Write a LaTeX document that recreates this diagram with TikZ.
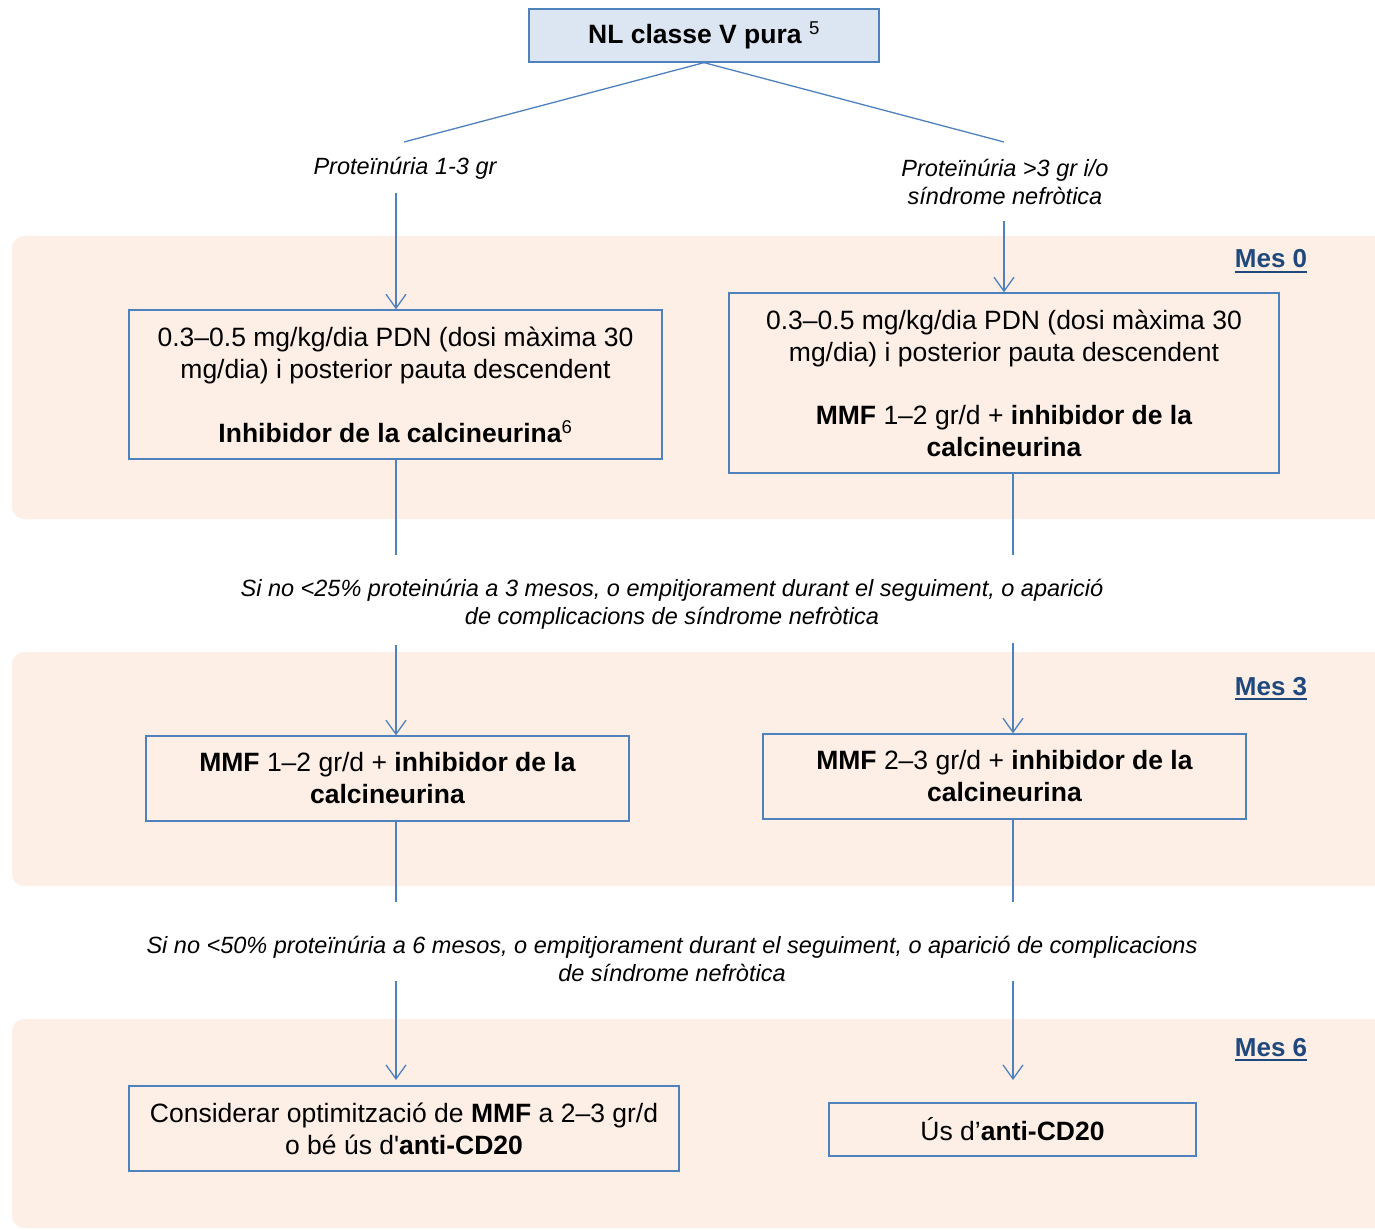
\documentclass[tikz,border=0pt]{standalone}
\usepackage{fontspec}
\setmainfont{Liberation Sans}
\usetikzlibrary{arrows.meta, positioning}

\definecolor{boxblue}{HTML}{4F81BD}
\definecolor{topfill}{HTML}{DCE6F2}
\definecolor{bandfill}{HTML}{FDEFE6}
\definecolor{mesblue}{HTML}{1F497D}

\newcommand{\boxfont}{\fontsize{26.5}{32}\selectfont}
\newcommand{\notefont}{\fontsize{23.5}{28}\selectfont\itshape}
\newcommand{\mesfont}{\fontsize{26}{30}\selectfont\bfseries}
\newcommand{\mesul}[1]{\vtop{\hbox{#1}\kern2.5pt\hrule height 2.5pt}}

\begin{document}
\begin{tikzpicture}[x=1pt, y=-1pt,
  box/.style={rectangle, draw=boxblue, line width=1.3pt, align=center,
              inner sep=0pt, font=\boxfont},
  topbox/.style={box, fill=topfill, font=\boxfont\bfseries},
  note/.style={align=center, font=\notefont},
  mes/.style={font=\mesfont, text=mesblue, inner sep=0pt, anchor=base},
  ln/.style={draw=boxblue, line width=1.3pt},
  arr/.style={ln, -{Straight Barb[length=14pt, width=20pt]}}
]
\useasboundingbox (0,0) rectangle (1375,1230);

% month bands
\begin{scope}
  \clip (0,0) rectangle (1375,1230);
  \fill[bandfill, rounded corners=12pt] (12,236) rectangle (1400,519);
  \fill[bandfill, rounded corners=12pt] (12,652) rectangle (1400,886);
  \fill[bandfill, rounded corners=12pt] (12,1019) rectangle (1400,1228);
\end{scope}

\node[mes] (m0) at (1271,268) {\mesul{Mes 0}};
\node[mes] (m3) at (1271,695) {\mesul{Mes 3}};
\node[mes] (m6) at (1271,1056) {\mesul{Mes 6}};

\node[topbox, minimum width=350, minimum height=53] (nl) at (704,35.5)
  {NL classe V pura \textsuperscript{\mdseries 5}};

\node[note] (p1) at (405,168) {Proteïnúria 1-3 gr};
\node[note] (p2) at (1005,182) {Proteïnúria >3 gr i/o\\síndrome nefròtica};

\coordinate (nlL) at (404,142);
\coordinate (nlR) at (1004,142);
\draw[ln] (nl.south) -- (nlL);
\draw[ln] (nl.south) -- (nlR);

% mes 0
\node[box, minimum width=533, minimum height=149] (l1) at (395.5,384.5)
  {0.3–0.5 mg/kg/dia PDN (dosi màxima 30\\mg/dia) i posterior pauta descendent\\[32pt]
   \textbf{Inhibidor de la calcineurina}\textsuperscript{6}};
\node[box, minimum width=550, minimum height=180] (r1) at (1004,383)
  {0.3–0.5 mg/kg/dia PDN (dosi màxima 30\\mg/dia) i posterior pauta descendent\\[31pt]
   \textbf{MMF} 1–2 gr/d + \textbf{inhibidor de la}\\\textbf{calcineurina}};

\coordinate (s1) at (396,193);
\coordinate (s2) at (1004,221);
\draw[arr] (s1) -- (s1 |- l1.north);
\draw[arr] (s2) -- (r1.north);

\coordinate (e1) at (396,555);
\coordinate (e2) at (1013,555);
\draw[ln] (l1.south -| e1) -- (e1);
\draw[ln] (r1.south -| e2) -- (e2);

\node[note] (c1) at (672,604)
  {Si no <25\% proteinúria a 3 mesos, o empitjorament durant el seguiment, o aparició\\de complicacions de síndrome nefròtica};

% mes 3
\node[box, minimum width=483, minimum height=85] (l2) at (387.5,778.5)
  {\textbf{MMF} 1–2 gr/d + \textbf{inhibidor de la}\\\textbf{calcineurina}};
\node[box, minimum width=483, minimum height=85] (r2) at (1004.5,776.5)
  {\textbf{MMF} 2–3 gr/d + \textbf{inhibidor de la}\\\textbf{calcineurina}};

\coordinate (s3) at (396,645);
\coordinate (s4) at (1013,643);
\draw[arr] (s3) -- (s3 |- l2.north);
\draw[arr] (s4) -- (s4 |- r2.north);

\coordinate (e3) at (396,902);
\coordinate (e4) at (1013,902);
\draw[ln] (l2.south -| e3) -- (e3);
\draw[ln] (r2.south -| e4) -- (e4);

\node[note] (c2) at (672,959)
  {Si no <50\% proteïnúria a 6 mesos, o empitjorament durant el seguiment, o aparició de complicacions\\de síndrome nefròtica};

% mes 6
\node[box, minimum width=550, minimum height=85] (l3) at (404,1128.5)
  {Considerar optimització de \textbf{MMF} a 2–3 gr/d\\o bé ús d\textquotesingle\textbf{anti-CD20}};
\node[box, minimum width=367, minimum height=53] (r3) at (1012.5,1129.5)
  {Ús d’\textbf{anti-CD20}};

\coordinate (s5) at (396,981);
\coordinate (s6) at (1013,981);
\coordinate (t5) at (396,1080);
\coordinate (t6) at (1013,1080);
\draw[arr] (s5) -- (t5);
\draw[arr] (s6) -- (t6);

\end{tikzpicture}
\end{document}
